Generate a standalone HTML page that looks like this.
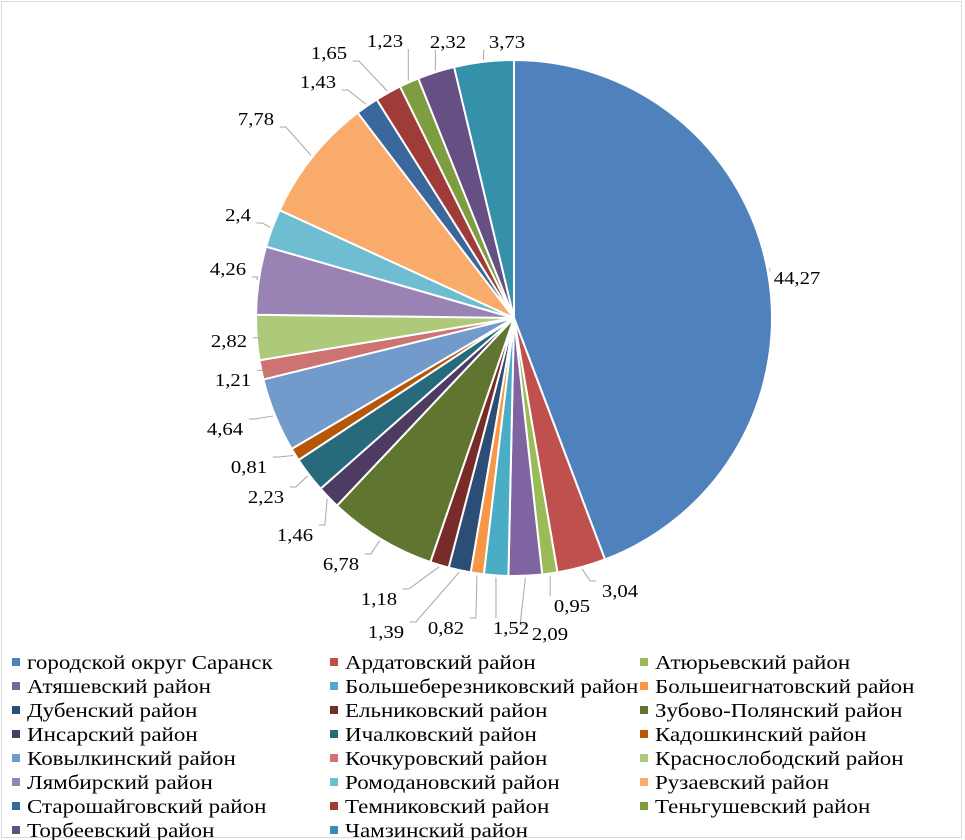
<!DOCTYPE html>
<html><head><meta charset="utf-8"><style>
body{margin:0;background:#fff;}
#wrap{position:relative;width:965px;height:840px;overflow:hidden;background:#fff;}
#frame{position:absolute;left:1px;top:1px;width:961px;height:837px;border:1px solid #d9d9d9;box-sizing:border-box;}
svg text{font-family:"Liberation Serif",serif;}
</style></head><body>
<div id="wrap">
<div id="frame"></div>
<svg id="chart" width="965" height="840" style="position:absolute;left:0;top:0"></svg>
</div>
<script>
const categories=["городской округ Саранск","Ардатовский район","Атюрьевский район","Атяшевский район","Большеберезниковский район","Большеигнатовский район","Дубенский район","Ельниковский район","Зубово-Полянский район","Инсарский район","Ичалковский район","Кадошкинский район","Ковылкинский район","Кочкуровский район","Краснослободский район","Лямбирский район","Ромодановский район","Рузаевский район","Старошайговский район","Темниковский район","Теньгушевский район","Торбеевский район","Чамзинский район"];
const values=[44.27,3.04,0.95,2.09,1.52,0.82,1.39,1.18,6.78,1.46,2.23,0.81,4.64,1.21,2.82,4.26,2.4,7.78,1.43,1.65,1.23,2.32,3.73];
const valueLabels=["44,27","3,04","0,95","2,09","1,52","0,82","1,39","1,18","6,78","1,46","2,23","0,81","4,64","1,21","2,82","4,26","2,4","7,78","1,43","1,65","1,23","2,32","3,73"];
const colors=["#4F81BD","#C0504D","#9BBB59","#8064A2","#4BACC6","#F79646","#2C4D75","#772C2A","#5F7530","#4D3B62","#276A7C","#B65708","#729ACA","#CD7371","#AFC97A","#9983B5","#6FBDD1","#F9AB6B","#3A679C","#9F3B38","#7E9C40","#664F83","#3491A9"];
// label placement (layout only): [centerX, baselineY]
const labelLayout=[[797,284],[620,597],[572,612],[550,640],[511,634],[446,634],[386,638],[379,605],[341,570],[295,541],[266,503],[249,473],[225,435],[233,386],[229,347],[228,275],[238,221],[256,125],[318,88],[329,59],[385,47],[448,48],[507,48]];
const NS="http://www.w3.org/2000/svg";
const svg=document.getElementById('chart');
const cx=514,cy=318,R=258,SX=1.15;
const total=values.reduce((a,b)=>a+b,0);
function pt(a,r){return [cx+r*Math.sin(a),cy-r*Math.cos(a)];}
function addText(x,y,s,size,anchor,name){
  const t=document.createElementNS(NS,'text');
  t.setAttribute('x',x/SX);t.setAttribute('y',y);
  t.setAttribute('transform',`scale(${SX},1)`);
  t.setAttribute('text-anchor',anchor);t.setAttribute('font-size',size);t.setAttribute('fill','#000');
  t.textContent=s;
  
  
  svg.appendChild(t);return t;
}
let acc=0;
values.forEach((v,i)=>{
  const a0=acc/total*2*Math.PI; acc+=v; const a1=acc/total*2*Math.PI;
  const p0=pt(a0,R),p1=pt(a1,R);
  const large=(a1-a0)>Math.PI?1:0;
  const p=document.createElementNS(NS,'path');
  p.setAttribute('d',`M${cx},${cy}L${p0[0]},${p0[1]}A${R},${R} 0 ${large} 1 ${p1[0]},${p1[1]}Z`);
  p.setAttribute('fill',colors[i]);p.setAttribute('stroke','#fff');p.setAttribute('stroke-width','2');
  
  
  svg.appendChild(p);
  const am=(a0+a1)/2;
  const e=pt(am,R+2);
  const L=labelLayout[i]||pt(am,R+40);
  const w=valueLabels[i].length*9.5*SX/2;
  // nearest point of label box
  let tx=Math.max(L[0]-w-2,Math.min(e[0],L[0]+w+2));
  let ty=Math.max(L[1]-16,Math.min(e[1],L[1]+2));
  if(tx>L[0]-w&&tx<L[0]+w&&ty>L[1]-16&&ty<L[1]+2){ty=L[1]-16;}
  const ln=document.createElementNS(NS,'polyline');
  const mid=[ (e[0]+tx)/2, ty];
  ln.setAttribute('points',`${e[0]},${e[1]} ${tx+(e[0]<tx?-6:e[0]>tx?6:0)},${ty} ${tx},${ty}`);
  ln.setAttribute('fill','none');ln.setAttribute('stroke','#a6a6a6');ln.setAttribute('stroke-width','1');
  
  
  svg.appendChild(ln);
  addText(L[0],L[1],valueLabels[i],18,'middle','data-label-'+(i+1));
});
const colX=[12,330,640];
categories.forEach((c,i)=>{
  const col=i%3,row=Math.floor(i/3);
  const x=colX[col],y=663+row*24;
  const r=document.createElementNS(NS,'rect');
  r.setAttribute('x',x);r.setAttribute('y',y-5);r.setAttribute('width',8);r.setAttribute('height',8);r.setAttribute('fill',colors[i]);
  
  
  svg.appendChild(r);
  addText(x+15,y+6,c,20,'start','legend-label-'+(i+1));
});
</script>
</body></html>
